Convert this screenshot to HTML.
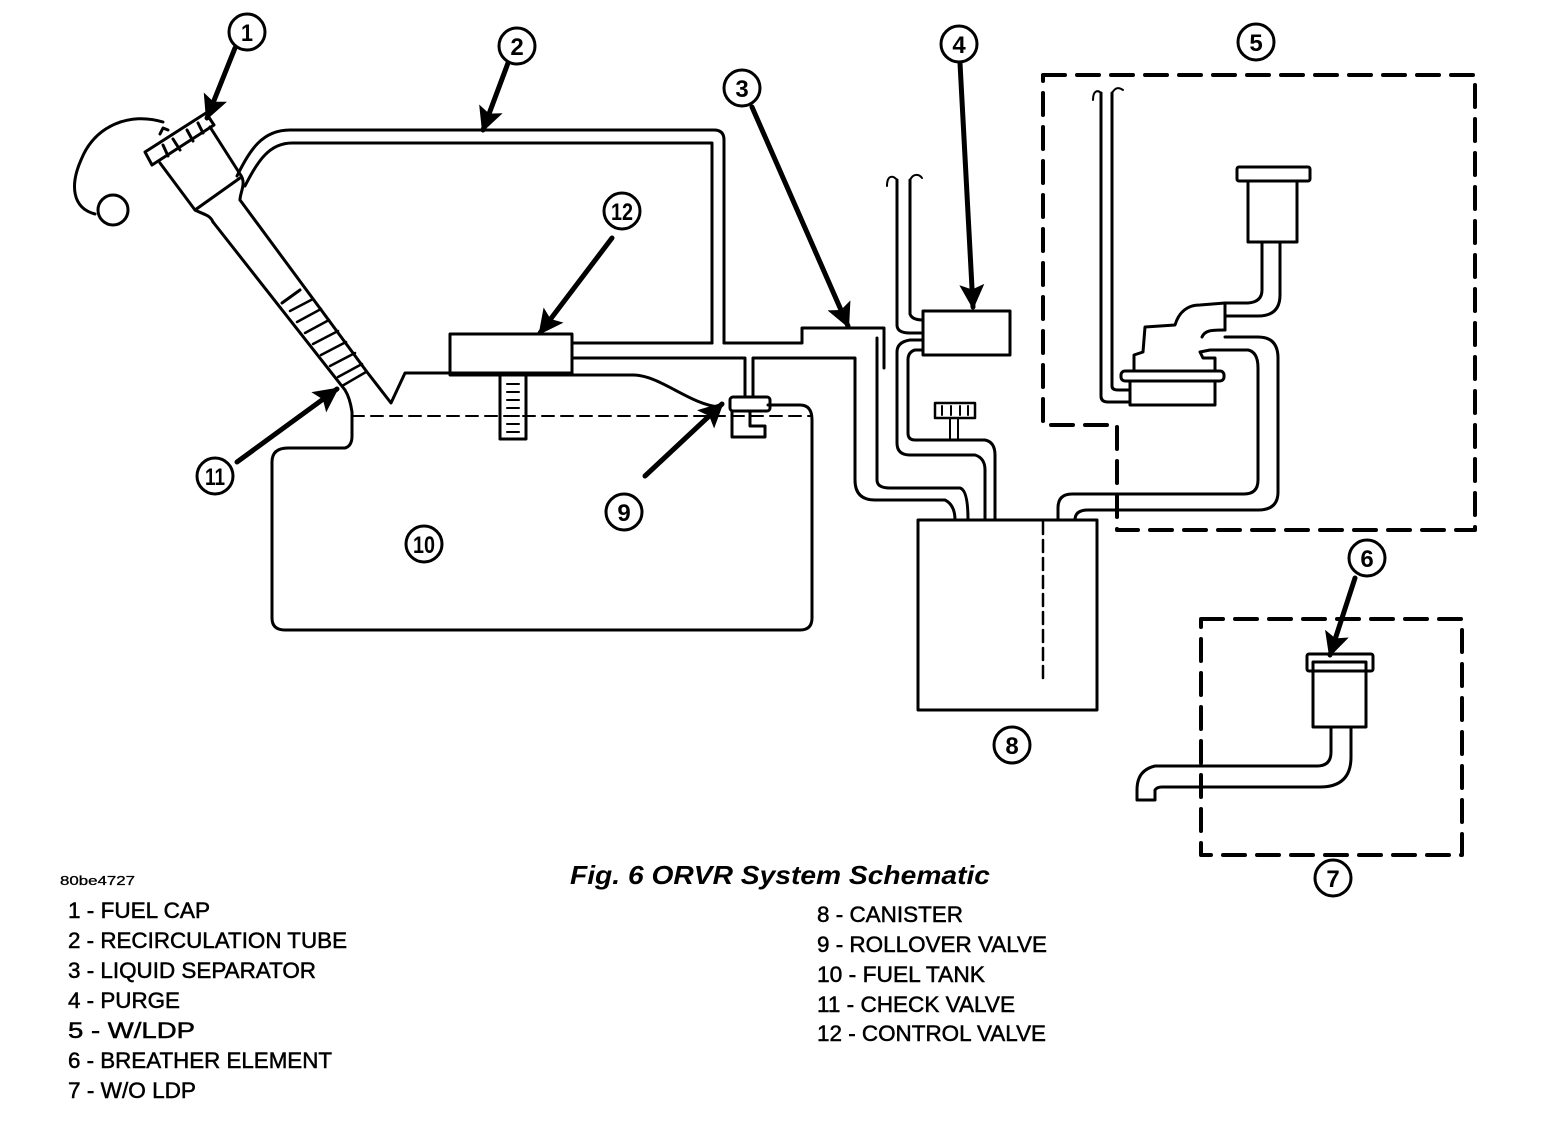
<!DOCTYPE html>
<html><head><meta charset="utf-8"><style>
html,body{margin:0;padding:0;background:#fff;}
svg{display:block;}
text{font-family:"Liberation Sans",sans-serif;fill:#000;}
</style></head><body>
<svg width="1568" height="1148" viewBox="0 0 1568 1148" xmlns="http://www.w3.org/2000/svg">
<defs>
<marker id="ah" viewBox="0 0 10 10" refX="9" refY="5" markerWidth="5" markerHeight="5" orient="auto" markerUnits="strokeWidth">
<path d="M0,0 L10,5 L0,10 L2,5 z" fill="#000"/>
</marker>
</defs>
<g fill="none" stroke="#000" stroke-width="3" stroke-linejoin="round" stroke-linecap="round">
<circle cx="247" cy="32" r="18"/>
<circle cx="517" cy="46" r="18"/>
<circle cx="742" cy="88" r="18"/>
<circle cx="959" cy="44" r="18"/>
<circle cx="1256" cy="42" r="18"/>
<circle cx="622" cy="211" r="18"/>
<circle cx="215" cy="476" r="18"/>
<circle cx="624" cy="512" r="18"/>
<circle cx="424" cy="544" r="18"/>
<circle cx="1012" cy="745" r="18"/>
<circle cx="1367" cy="558" r="18"/>
<circle cx="1333" cy="878" r="18"/>

<g stroke-width="5" marker-end="url(#ah)">
<line x1="235" y1="48" x2="207" y2="118"/>
<line x1="508" y1="63" x2="483" y2="130"/>
<line x1="752" y1="107" x2="848" y2="326"/>
<line x1="960" y1="63" x2="973" y2="307"/>
<line x1="612" y1="238" x2="540" y2="333"/>
<line x1="237" y1="462" x2="337" y2="389"/>
<line x1="645" y1="476" x2="722" y2="404"/>
<line x1="1355" y1="578" x2="1330" y2="655"/>
</g>

<path d="M163,122 C130,112 95,125 81,160 C70,185 72,208 95,214"/>
<circle cx="113" cy="210" r="15"/>
<path d="M145,152 L206,113 L214,125 L152,165 Z"/>
<path d="M160,134 L163,128 L168,130"/>
<line x1="163" y1="145" x2="168" y2="156"/>
<line x1="173" y1="139" x2="180" y2="150"/>
<line x1="187" y1="130" x2="193" y2="141"/>
<line x1="198" y1="123" x2="203" y2="133"/>
<path d="M160,163 L195,210 C205,215 210,215 213,222"/>
<path d="M210,127 L240,174 C247,183 240,192 240,200"/>
<line x1="195" y1="210" x2="240" y2="178"/>
<path d="M213,222 L345,390"/>
<path d="M240,200 L367,372 L391,403 L405,373 L450,373"/>
<line x1="282" y1="303" x2="300" y2="290"/>
<g stroke-width="2.5">
<line x1="290" y1="311" x2="313" y2="299"/>
<line x1="297" y1="322" x2="321" y2="309"/>
<line x1="305" y1="333" x2="329" y2="320"/>
<line x1="313" y1="344" x2="338" y2="331"/>
<line x1="321" y1="355" x2="346" y2="342"/>
<line x1="330" y1="366" x2="355" y2="353"/>
<line x1="338" y1="377" x2="362" y2="364"/>
<line x1="342" y1="386" x2="366" y2="372"/>
</g>
<!-- recirculation tube -->
<path d="M237,176 C250,150 262,130 290,130 L714,130 Q724,130 724,140 L724,343"/>
<path d="M245,186 C258,160 270,143 292,143 L712,143 L712,343"/>

<rect x="450" y="334" width="122" height="39"/>
<rect x="500" y="374" width="26" height="65"/>
<g stroke-width="2"><line x1="507" y1="384" x2="519" y2="384"/><line x1="507" y1="392" x2="519" y2="392"/><line x1="507" y1="400" x2="519" y2="400"/><line x1="507" y1="408" x2="519" y2="408"/><line x1="507" y1="416" x2="519" y2="416"/><line x1="507" y1="424" x2="519" y2="424"/><line x1="507" y1="432" x2="519" y2="432"/></g>
<path d="M572,343 L712,343"/>
<path d="M724,343 L802,343 L802,328 L884,328 L884,368"/>
<path d="M572,358 L745,358 L745,397"/>
<path d="M753,397 L753,358 L855,358 L855,480 Q855,500 875,500 L945,500 Q955,505 955,520"/>
<path d="M877,338 L877,480 Q877,488 890,488 L960,488 Q968,490 968,520"/>

<path d="M450,375 L633,375 C660,375 690,405 720,407"/>
<path d="M768,405 L800,405 Q812,405 812,420 L812,618 Q812,630 800,630 L285,630 Q272,630 272,618 L272,462 Q272,448 288,448 L345,448 Q352,446 352,436 L352,412 Q350,398 345,390"/>
<line x1="352" y1="416" x2="810" y2="416" stroke-width="2" stroke-dasharray="12,7"/>
<rect x="730" y="397" width="40" height="14" rx="3"/>
<path d="M732,411 L732,437 L765,437 L765,426 L750,426 L750,411"/>

<rect x="918" y="520" width="179" height="190"/>
<line x1="1043" y1="522" x2="1043" y2="680" stroke-width="2.5" stroke-dasharray="12,6"/>

<rect x="923" y="311" width="87" height="44"/>
<path d="M897,180 L897,325 Q897,333 910,333 L923,333"/>
<path d="M910,180 L910,314 Q912,320 923,320"/>
<path d="M887,186 C887,175 893,175 897,180 M910,180 C914,172 920,175 922,178" stroke-width="2"/>
<path d="M923,340 L910,340 Q897,342 897,352 L897,443 Q897,455 910,455 L975,455 Q985,458 985,470 L985,520"/>
<path d="M923,350 L915,350 Q908,352 908,360 L908,433 Q908,440 915,440 L985,440 Q995,442 995,455 L995,520"/>
<rect x="935" y="403" width="40" height="15" stroke-width="2.5"/>
<g stroke-width="2"><line x1="942" y1="406" x2="942" y2="415"/><line x1="951" y1="406" x2="951" y2="415"/><line x1="960" y1="406" x2="960" y2="415"/><line x1="968" y1="406" x2="968" y2="415"/></g>
<path d="M950,418 L950,440 M958,418 L958,440" stroke-width="2"/>

<path d="M1043,75 L1475,75 L1475,530 L1117,530 L1117,425 L1043,425 Z" stroke-dasharray="22,12" stroke-width="4"/>
<path d="M1101,93 L1101,396 Q1101,402 1108,402 L1130,402"/>
<path d="M1112,93 L1112,386 Q1112,390 1118,390 L1130,390"/>
<path d="M1093,100 C1093,90 1098,90 1101,93 M1112,93 C1116,86 1120,88 1123,90" stroke-width="2"/>
<rect x="1130" y="381" width="85" height="24"/>
<rect x="1121" y="371" width="103" height="10" rx="4"/>
<path d="M1134,371 L1134,355 L1143,352 L1145,327 L1175,325 C1178,315 1185,305 1200,305 L1225,303"/>
<path d="M1215,371 L1215,358 L1203,358 L1200,352 L1210,350 L1225,350"/>
<path d="M1202,337 C1205,330 1212,330 1225,330"/>
<path d="M1225,303 L1225,315 M1225,330 L1225,315"/>
<rect x="1237" y="167" width="73" height="14" rx="2"/>
<rect x="1248" y="181" width="49" height="61"/>
<path d="M1262,242 L1262,290 Q1262,302 1248,303 L1225,303"/>
<path d="M1280,242 L1280,295 Q1280,316 1258,316 L1225,316"/>
<path d="M1225,337 L1258,337 Q1278,337 1278,358 L1278,492 Q1278,510 1258,510 L1088,510 Q1075,510 1075,520"/>
<path d="M1225,350 L1248,350 Q1258,352 1258,368 L1258,480 Q1258,494 1244,494 L1072,494 Q1058,494 1058,508 L1058,520"/>

<rect x="1201" y="619" width="261" height="236" stroke-dasharray="22,12" stroke-width="4"/>
<rect x="1307" y="654" width="66" height="17" rx="2"/>
<rect x="1313" y="662" width="53" height="65"/>
<path d="M1331,727 L1331,752 Q1331,766 1317,766 L1155,766 Q1137,770 1137,790 L1137,800 L1155,800 L1155,790 Q1157,787 1162,787 L1320,787 Q1351,787 1351,757 L1351,727"/>
</g>

<g font-size="24" font-weight="bold" text-anchor="middle">
<text x="247" y="41" textLength="12" lengthAdjust="spacingAndGlyphs">1</text>
<text x="517" y="55">2</text>
<text x="742" y="97">3</text>
<text x="959" y="53">4</text>
<text x="1256" y="51">5</text>
<text x="622" y="220" textLength="22" lengthAdjust="spacingAndGlyphs">12</text>
<text x="215" y="485" textLength="20" lengthAdjust="spacingAndGlyphs">11</text>
<text x="624" y="521">9</text>
<text x="424" y="553" textLength="22" lengthAdjust="spacingAndGlyphs">10</text>
<text x="1012" y="754">8</text>
<text x="1367" y="567">6</text>
<text x="1333" y="887">7</text>
</g>

<text x="60" y="885" font-size="13" textLength="75" lengthAdjust="spacingAndGlyphs" stroke="#000" stroke-width="0.3">80be4727</text>
<text x="570" y="884" font-size="26" font-weight="bold" font-style="italic" textLength="420" lengthAdjust="spacingAndGlyphs">Fig. 6 ORVR System Schematic</text>
<g font-size="22" stroke="#000" stroke-width="0.5">
<text x="68" y="918" textLength="142" lengthAdjust="spacingAndGlyphs">1 - FUEL CAP</text>
<text x="68" y="948" textLength="279" lengthAdjust="spacingAndGlyphs">2 - RECIRCULATION TUBE</text>
<text x="68" y="978" textLength="248" lengthAdjust="spacingAndGlyphs">3 - LIQUID SEPARATOR</text>
<text x="68" y="1008" textLength="112" lengthAdjust="spacingAndGlyphs">4 - PURGE</text>
<text x="68" y="1038" textLength="127" lengthAdjust="spacingAndGlyphs">5 - W/LDP</text>
<text x="68" y="1068" textLength="264" lengthAdjust="spacingAndGlyphs">6 - BREATHER ELEMENT</text>
<text x="68" y="1098" textLength="128" lengthAdjust="spacingAndGlyphs">7 - W/O LDP</text>
<text x="817" y="922" textLength="146" lengthAdjust="spacingAndGlyphs">8 - CANISTER</text>
<text x="817" y="952" textLength="230" lengthAdjust="spacingAndGlyphs">9 - ROLLOVER VALVE</text>
<text x="817" y="982" textLength="168" lengthAdjust="spacingAndGlyphs">10 - FUEL TANK</text>
<text x="817" y="1012" textLength="198" lengthAdjust="spacingAndGlyphs">11 - CHECK VALVE</text>
<text x="817" y="1041" textLength="229" lengthAdjust="spacingAndGlyphs">12 - CONTROL VALVE</text>
</g>
</svg>
</body></html>
